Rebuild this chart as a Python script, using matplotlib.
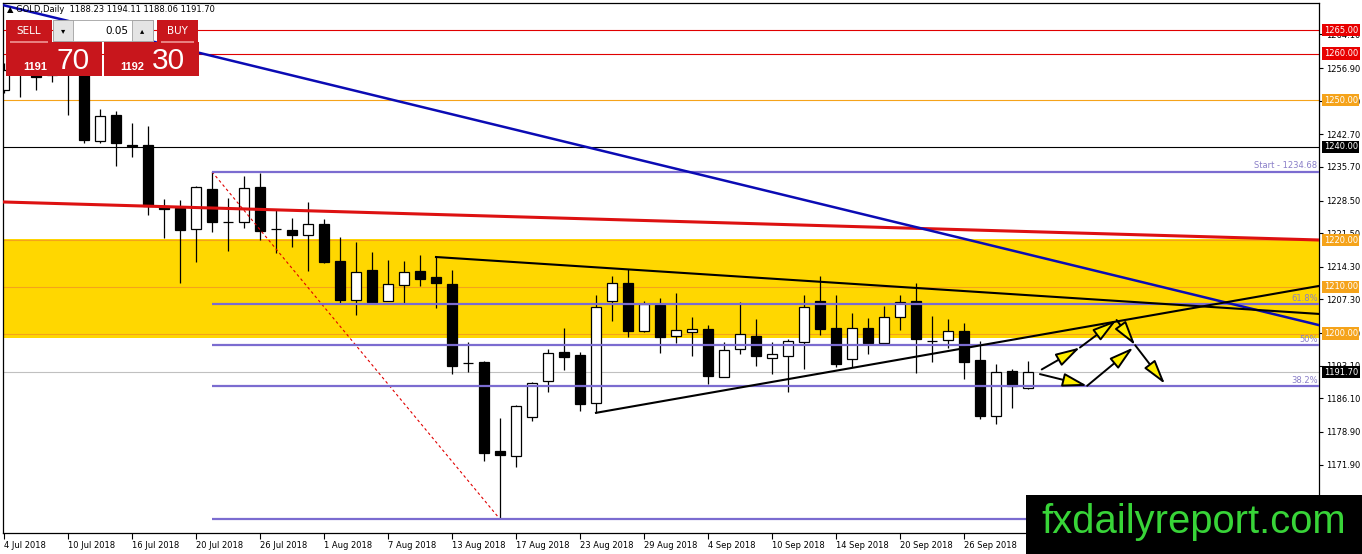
import matplotlib
matplotlib.use("Agg")
import matplotlib.pyplot as plt
import matplotlib.transforms as mtransforms
from matplotlib.patches import Rectangle, FancyArrowPatch

W, H = 1362, 554

# daily GOLD bars, 4 Jul 2018 .. 2 Oct 2018 (one per weekday)
opens = [1252.2, 1258.5, 1257.5, 1255.5, 1258.0, 1256.0, 1241.2, 1246.8, 1240.5, 1240.4,
         1227.3, 1226.9, 1222.4, 1231.0, 1224.0, 1223.9, 1231.4, 1222.5, 1222.2, 1221.1,
         1223.5, 1215.5, 1207.2, 1213.6, 1207.0, 1210.4, 1213.4, 1212.1, 1210.6, 1193.7,
         1193.9, 1174.9, 1173.8, 1182.0, 1189.8, 1196.1, 1195.4, 1185.1, 1207.0, 1210.8,
         1200.5, 1206.1, 1199.5, 1200.3, 1201.0, 1190.7, 1196.7, 1199.5, 1194.8, 1195.2,
         1198.2, 1207.0, 1201.2, 1194.6, 1201.2, 1198.0, 1203.5, 1207.0, 1198.4, 1198.6,
         1200.5, 1194.3, 1182.3, 1192.0, 1188.23]
highs = [1258.0, 1260.5, 1259.5, 1261.3, 1259.5, 1257.3, 1248.1, 1247.7, 1245.1, 1244.4,
         1228.8, 1228.6, 1231.6, 1234.68, 1229.0, 1233.7, 1234.4, 1226.7, 1224.7, 1228.2,
         1224.5, 1220.7, 1219.6, 1217.5, 1215.7, 1215.5, 1216.8, 1216.4, 1213.6, 1198.2,
         1194.1, 1181.9, 1184.7, 1189.7, 1196.7, 1201.2, 1196.1, 1208.3, 1212.3, 1213.8,
         1207.0, 1207.6, 1208.7, 1203.5, 1201.8, 1198.2, 1206.8, 1203.1, 1198.2, 1198.8,
         1208.3, 1212.3, 1208.3, 1204.4, 1203.3, 1205.9, 1208.3, 1210.8, 1203.8, 1203.1,
         1202.3, 1198.4, 1193.5, 1192.4, 1194.11]
lows = [1251.5, 1250.6, 1252.1, 1253.9, 1246.8, 1240.8, 1240.8, 1235.9, 1237.8, 1225.4,
        1220.5, 1210.8, 1215.3, 1221.7, 1217.6, 1222.6, 1220.0, 1217.2, 1218.5, 1213.4,
        1215.2, 1206.5, 1204.0, 1206.5, 1207.0, 1206.3, 1210.2, 1205.5, 1191.3, 1191.8,
        1172.7, 1160.2, 1171.4, 1181.3, 1187.5, 1192.2, 1183.4, 1183.0, 1202.7, 1199.3,
        1200.3, 1195.8, 1198.0, 1195.2, 1189.2, 1190.7, 1195.6, 1193.1, 1191.3, 1187.5,
        1192.4, 1199.7, 1192.8, 1192.8, 1195.6, 1197.5, 1200.8, 1191.6, 1193.9, 1196.9,
        1190.3, 1181.7, 1180.6, 1184.1, 1188.06]
closes = [1256.4, 1256.0, 1254.9, 1257.8, 1255.6, 1241.4, 1246.6, 1240.8, 1240.3, 1227.3,
          1226.7, 1222.2, 1231.4, 1223.9, 1223.8, 1231.2, 1221.9, 1222.3, 1221.1, 1223.5,
          1215.3, 1207.2, 1213.2, 1206.8, 1210.6, 1213.2, 1211.7, 1210.8, 1193.1, 1193.6,
          1174.4, 1174.0, 1184.5, 1189.3, 1195.8, 1195.0, 1184.9, 1205.7, 1210.8, 1200.5,
          1206.3, 1199.3, 1200.8, 1201.0, 1190.9, 1196.5, 1199.9, 1195.2, 1195.6, 1198.4,
          1205.7, 1201.0, 1193.5, 1201.2, 1198.0, 1203.5, 1206.8, 1198.8, 1198.3, 1200.5,
          1193.9, 1182.3, 1191.8, 1188.8, 1191.70]

date_labels = ['4 Jul 2018', '10 Jul 2018', '16 Jul 2018', '20 Jul 2018', '26 Jul 2018',
               '1 Aug 2018', '7 Aug 2018', '13 Aug 2018', '17 Aug 2018', '23 Aug 2018',
               '29 Aug 2018', '4 Sep 2018', '10 Sep 2018', '14 Sep 2018', '20 Sep 2018',
               '26 Sep 2018']
date_ticks = [0, 4, 8, 12, 16, 20, 24, 28, 32, 36, 40, 44, 48, 52, 56, 60]
price_ticks = [1264.10, 1256.90, 1249.80, 1242.70, 1235.70, 1228.50, 1221.50, 1214.30,
               1207.30, 1200.10, 1193.10, 1186.10, 1178.90, 1171.90, 1164.70]

red_levels = [1265.0, 1260.0]
orange_levels = [1250.0, 1220.0, 1210.0, 1200.0]
black_level = 1240.0
bid = 1191.70
zone = [1199.0, 1220.3]

fib_from = [13, 1234.68]
fib_to = [31, 1160.2]
fib_ratios = [0.618, 0.5, 0.382]
fib_names = ['61.8%', '50%', '38.2%']

ma_x, ma_y = [-0.0625, 82.19], [1228.2, 1220.05]
blue_x, blue_y = [-0.0625, 82.19], [1270.4, 1201.8]
upper_x, upper_y = [27, 82.19], [1216.4, 1204.2]
lower_x, lower_y = [37, 82.19], [1183.0, 1210.2]

arrow_paths = [
    [(64.86, 1192.3), (67.25, 1197.0), (69.54, 1202.9), (70.7, 1197.5), (72.56, 1189.2)],
    [(64.75, 1191.3), (67.7, 1188.8), (70.58, 1197.0)],
]

price_boxes = [(1265.0, '1265.00', '#e80000'), (1260.0, '1260.00', '#e80000'),
               (1250.0, '1250.00', '#f5a31a'), (1240.0, '1240.00', '#000000'),
               (1220.0, '1220.00', '#f5a31a'), (1210.0, '1210.00', '#f5a31a'),
               (1200.0, '1200.00', '#f5a31a'), (1191.70, '1191.70', '#000000')]

purple = '#7b6cd0'
orange = '#f5a31a'

fig = plt.figure(figsize=(W / 100, H / 100), dpi=100)
ax = fig.add_axes([3 / W, 1 - 533 / H, 1316 / W, 530 / H])
ax.set_xlim(-0.0625, 82.19)
ax.set_ylim(1157.24, 1270.85)

# yellow zone and horizontal levels
ax.axhspan(zone[0], zone[1], color='#ffd700', zorder=0.5, lw=0)
for lv in orange_levels:
    ax.axhline(lv, color=orange, lw=0.8, zorder=1)
for lv in red_levels:
    ax.axhline(lv, color='#e00000', lw=0.8, zorder=1)
ax.axhline(black_level, color='black', lw=0.8, zorder=1)
ax.axhline(bid, color='#c0c0c0', lw=0.8, zorder=1)

# candles
n = len(opens)
xs = list(range(n))
ax.vlines(xs, lows, highs, color='black', lw=0.9, zorder=2)
for i in xs:
    o, c = opens[i], closes[i]
    bottom = min(o, c)
    height = max(abs(c - o), 0.05)
    fc = 'white' if c >= o else 'black'
    ax.add_patch(Rectangle((i - 0.33, bottom), 0.66, height, facecolor=fc,
                           edgecolor='black', lw=0.9, zorder=2.1))

# fibonacci
rng = fib_from[1] - fib_to[1]
ax.plot([fib_from[0], fib_to[0]], [fib_from[1], fib_to[1]], color='#e00000', lw=0.8,
        ls=(0, (2.5, 2.5)), zorder=3)
for lv in [fib_from[1], fib_to[1]] + [fib_to[1] + r * rng for r in fib_ratios]:
    ax.plot([fib_from[0], 82.19], [lv, lv], color=purple, lw=1.6, zorder=3,
            solid_capstyle='butt')
for r, name in zip(fib_ratios, fib_names):
    ax.text(82.1, fib_to[1] + r * rng + 0.3, name, color='#8a7fc8', fontsize=6,
            ha='right', va='bottom', zorder=5)
ax.text(82.1, fib_from[1] + 0.3, 'Start - 1234.68', color='#8a7fc8', fontsize=6,
        ha='right', va='bottom', zorder=5)

# trend lines
ax.plot(ma_x, ma_y, color='#dd1111', lw=2.2, zorder=3)
ax.plot(blue_x, blue_y, color='#0b0bb4', lw=1.8, zorder=3)
ax.plot(upper_x, upper_y, color='black', lw=1.5, zorder=3)
ax.plot(lower_x, lower_y, color='black', lw=1.5, zorder=3)

# projected path arrows
for path in arrow_paths:
    for p0, p1 in zip(path[:-1], path[1:]):
        ax.add_patch(FancyArrowPatch(p0, p1, arrowstyle='-|>,head_length=1.5,head_width=0.42',
                                     mutation_scale=10, fc='#ffee00', ec='black', lw=1.4,
                                     shrinkA=0, shrinkB=0, zorder=4))

# axes look
ax.yaxis.tick_right()
ax.set_yticks(price_ticks)
ax.set_yticklabels(['%.2f' % v for v in price_ticks])
ax.set_xticks(date_ticks)
ax.set_xticklabels(date_labels, ha='left')
ax.tick_params(axis='y', length=3, pad=2, labelsize=6, width=0.8)
ax.tick_params(axis='x', length=4, pad=1.5, labelsize=6, width=0.8)
for s in ax.spines.values():
    s.set_linewidth(0.9)

trans = mtransforms.blended_transform_factory(ax.transAxes, ax.transData)
for lv, txt, bg in price_boxes:
    ax.text(1.0035, lv, txt, transform=trans, ha='left', va='center', fontsize=6,
            color='white', clip_on=False, zorder=6,
            bbox=dict(boxstyle='square,pad=0.2', fc=bg, ec='none'))


# pixel helpers for the overlay widgets
def px_rect(x0, y0, x1, y1, **kw):
    fig.add_artist(Rectangle((x0 / W, 1 - y1 / H), (x1 - x0) / W, (y1 - y0) / H,
                             transform=fig.transFigure, **kw))


def px_text(x, y, s, **kw):
    fig.text(x / W, 1 - y / H, s, **kw)


px_text(7, 10, '\u25b2 GOLD,Daily  1188.23 1194.11 1188.06 1191.70', fontsize=6,
        va='center', ha='left')

red = '#c8161c'
px_rect(6, 20, 52, 42, fc=red, ec='none', zorder=10)
px_rect(157, 20, 198, 42, fc=red, ec='none', zorder=10)
px_rect(6, 42, 102, 76, fc=red, ec='none', zorder=10)
px_rect(104, 42, 199, 76, fc=red, ec='none', zorder=10)
px_rect(10, 41.5, 48, 42.5, fc='#e88080', ec='none', zorder=10.5)
px_rect(161, 41.5, 194, 42.5, fc='#e88080', ec='none', zorder=10.5)
px_rect(53, 20, 153, 41, fc='white', ec='#a0a0a0', lw=0.6, zorder=10)
px_rect(53, 20, 73, 41, fc='#e4e4e4', ec='#a0a0a0', lw=0.6, zorder=10)
px_rect(132, 20, 153, 41, fc='#e4e4e4', ec='#a0a0a0', lw=0.6, zorder=10)
px_text(63, 31, '\u25be', fontsize=6, ha='center', va='center', zorder=11)
px_text(142, 31, '\u25b4', fontsize=6, ha='center', va='center', zorder=11)
px_text(128, 31, '0.05', fontsize=7.5, ha='right', va='center', zorder=11)
px_text(29, 31, 'SELL', fontsize=7.5, color='white', ha='center', va='center', zorder=11)
px_text(177, 31, 'BUY', fontsize=7.5, color='white', ha='center', va='center', zorder=11)
px_text(23, 70, '1191', fontsize=8, color='white', fontweight='bold',
        family='Liberation Sans', ha='left', va='baseline', zorder=11)
px_text(56, 69, '70', fontsize=21.5, color='white', family='Liberation Sans',
        ha='left', va='baseline', zorder=11)
px_text(120, 70, '1192', fontsize=8, color='white', fontweight='bold',
        family='Liberation Sans', ha='left', va='baseline', zorder=11)
px_text(152, 69, '30', fontsize=21.5, color='white', family='Liberation Sans',
        ha='left', va='baseline', zorder=11)

# watermark
px_rect(1026, 495, 1362, 554, fc='black', ec='none', zorder=10)
px_text(1041, 533, 'fxdailyreport.com', fontsize=28.8, color='#38d438',
        family='Liberation Sans', ha='left', va='baseline', zorder=11)

fig.savefig('out.png', dpi=100)
